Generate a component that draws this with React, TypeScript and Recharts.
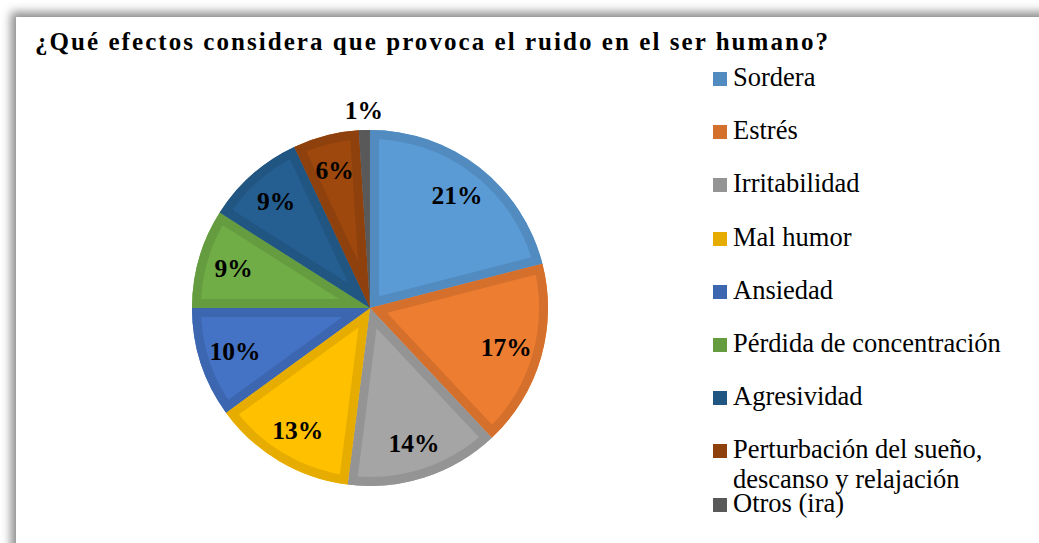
import React from 'react'
import { PieChart, Pie, Cell, Sector, Legend } from 'recharts'

const categories = [
  'Sordera',
  'Estrés',
  'Irritabilidad',
  'Mal humor',
  'Ansiedad',
  'Pérdida de concentración',
  'Agresividad',
  'Perturbación del sueño, descanso y relajación',
  'Otros (ira)',
]
const shares = [21, 17, 14, 13, 10, 9, 9, 6, 1]
const fills = ['#5B9BD5', '#ED7D31', '#A5A5A5', '#FFC000', '#4472C4', '#70AD47', '#255E91', '#9E480E', '#636363']
const edges = ['#518BC0', '#D5702C', '#949494', '#E6AD00', '#3D66B0', '#659C40', '#215582', '#8E410D', '#595959']

const title = '¿Qué efectos considera que provoca el ruido en el ser humano?'

const data = categories.map((name, i) => ({ name, value: shares[i] }))

const SERIF = "'Liberation Serif', 'Times New Roman', serif"
const RAD = Math.PI / 180

function SliceLabel(props: any) {
  const { cx, cy, outerRadius, startAngle, endAngle, midAngle, percent, index } = props
  const r = percent < 0.03 ? outerRadius + 20 : 142
  const x = cx + r * Math.cos(-midAngle * RAD)
  const y = cy + r * Math.sin(-midAngle * RAD)
  const id = `slice-clip-${index}`
  return (
    <g>
      <defs>
        <clipPath id={id}>
          <Sector cx={cx} cy={cy} innerRadius={0} outerRadius={outerRadius} startAngle={startAngle} endAngle={endAngle} />
        </clipPath>
      </defs>
      <g clipPath={`url(#${id})`}>
        <Sector
          cx={cx}
          cy={cy}
          innerRadius={0}
          outerRadius={outerRadius}
          startAngle={startAngle}
          endAngle={endAngle}
          fill="none"
          stroke={edges[index]}
          strokeWidth={18}
        />
      </g>
      <text
        x={x}
        y={y}
        textAnchor="middle"
        dominantBaseline="central"
        fontFamily={SERIF}
        fontWeight="bold"
        fontSize={25.5}
        fill="#000"
      >
        {`${Math.round(percent * 100)}%`}
      </text>
    </g>
  )
}

// legend keeps the sheet's order, not recharts' sorted payload
function LegendList() {
  return (
    <div style={{ position: 'relative', width: 320, height: 470 }}>
      {categories.map((name, i) => (
        <div key={name} style={{ position: 'absolute', left: 0, top: i * 53.2, width: 320 }}>
          <span
            style={{
              position: 'absolute',
              left: 0,
              top: 10,
              width: 14,
              height: 14,
              background: edges[i],
            }}
          />
          <span
            style={{
              position: 'absolute',
              left: 20,
              top: 0,
              width: 290,
              fontFamily: SERIF,
              fontSize: 26.5,
              lineHeight: '30px',
              color: '#000',
              textAlign: 'left',
            }}
          >
            {name}
          </span>
        </div>
      ))}
    </div>
  )
}

export default function App() {
  return (
    <div style={{ position: 'absolute', left: 0, top: 0, width: 1039, height: 543, overflow: 'hidden', background: '#fff' }}>
      <div
        style={{
          position: 'absolute',
          left: 16,
          top: 17,
          width: 1100,
          height: 600,
          background: '#fff',
          boxShadow: '-5px -5px 9px rgba(0,0,0,0.45)',
        }}
      />
      <svg width={1039} height={70} style={{ position: 'absolute', left: 0, top: 0 }}>
        <text x={35} y={50} fontFamily={SERIF} fontWeight="bold" fontSize={25} textLength={793} lengthAdjust="spacing" fill="#000">
          {title}
        </text>
      </svg>
      <div style={{ position: 'absolute', left: 0, top: 0 }}>
        <PieChart width={1039} height={543} margin={{ top: 0, right: 0, bottom: 0, left: 0 }}>
          <Pie
            data={data}
            dataKey="value"
            nameKey="name"
            cx={370}
            cy={308}
            outerRadius={178}
            startAngle={90}
            endAngle={-270}
            stroke="none"
            label={SliceLabel}
            labelLine={false}
            isAnimationActive={false}
          >
            {data.map((d, i) => (
              <Cell key={d.name} fill={fills[i]} />
            ))}
          </Pie>
          <Legend
            layout="vertical"
            align="right"
            verticalAlign="middle"
            content={LegendList}
            wrapperStyle={{ left: 713, top: 62, right: 'auto', bottom: 'auto', width: 320 }}
          />
        </PieChart>
      </div>
    </div>
  )
}
